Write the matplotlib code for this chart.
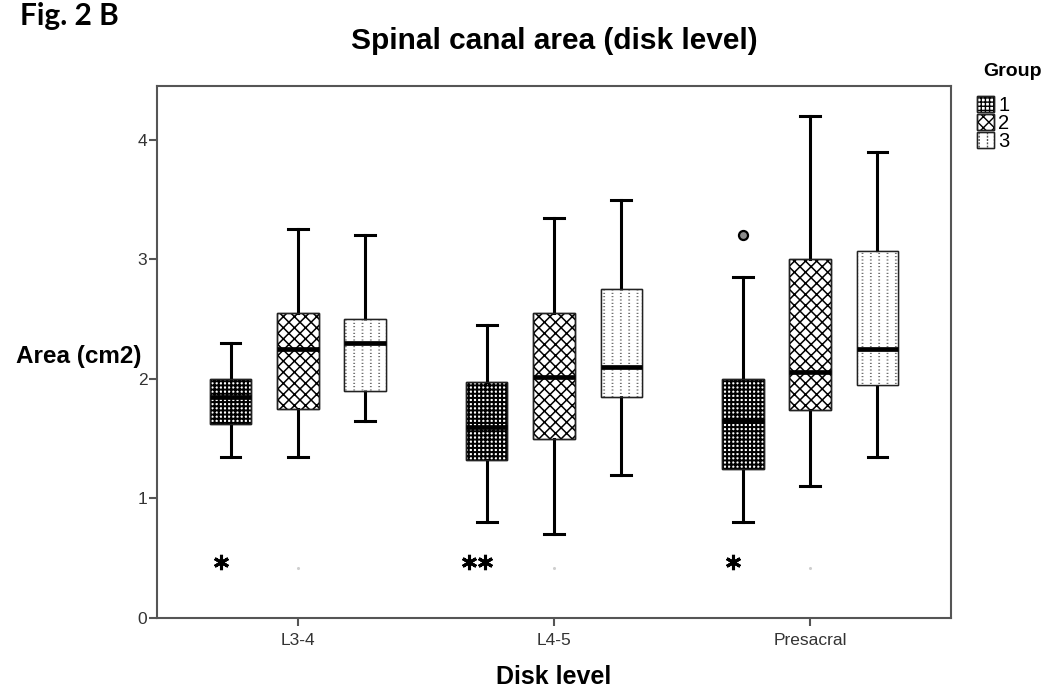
import matplotlib
matplotlib.use("Agg")
import matplotlib.pyplot as plt
import numpy as np
from matplotlib.patches import Patch, PathPatch
from matplotlib.legend_handler import HandlerTuple

# ---------------- data ----------------
categories = ["L3-4", "L4-5", "Presacral"]
groups = ["1", "2", "3"]

# rows = group 1..3, columns = categories
whisker_low = [[1.35, 0.80, 0.80],
               [1.35, 0.70, 1.10],
               [1.65, 1.20, 1.35]]
quartile1 = [[1.62, 1.32, 1.25],
             [1.75, 1.50, 1.74],
             [1.90, 1.85, 1.95]]
medians = [[1.85, 1.60, 1.65],
           [2.25, 2.02, 2.06],
           [2.30, 2.10, 2.25]]
quartile3 = [[2.00, 1.97, 2.00],
             [2.55, 2.55, 3.00],
             [2.50, 2.75, 3.07]]
whisker_high = [[2.30, 2.45, 2.85],
                [3.25, 3.35, 4.20],
                [3.20, 3.50, 3.90]]
outliers = [[[], [], [3.20]],
            [[], [], []],
            [[], [], []]]
extremes_group1 = [[0.47], [0.47, 0.47], [0.47]]
faint_marks = [0.42, 0.42, 0.42]
y_ticks = [0, 1, 2, 3, 4]

# ---------------- figure ----------------
W, H = 1054, 689
fig = plt.figure(figsize=(W / 100, H / 100), dpi=100)
ax = fig.add_axes([157 / W, 1 - 618 / H, (951 - 157) / W, (618 - 86) / H])

offsets = [-0.263, 0.0, 0.263]
box_w = 0.162
cap_w = 0.078
hatches = ["++++", "xxx", "||"]
hatch_lw = [1.45, 1.1, 1.3]
hatch_col = ["black", "black", "#505050"]
dot_cut_hatch = "-----"
dot_cut_lw = 1.7

def set_hlw(p, lw):
    if hasattr(p, "set_hatch_linewidth"):
        p.set_hatch_linewidth(lw)

for gi in range(3):
    stats = []
    for ci in range(3):
        stats.append(dict(whislo=whisker_low[gi][ci], q1=quartile1[gi][ci],
                          med=medians[gi][ci], q3=quartile3[gi][ci],
                          whishi=whisker_high[gi][ci], fliers=outliers[gi][ci]))
    pos = [ci + offsets[gi] for ci in range(3)]
    with plt.rc_context({"hatch.linewidth": hatch_lw[gi]}):
        bp = ax.bxp(stats, positions=pos, widths=box_w, capwidths=cap_w,
                    patch_artist=True, showfliers=True, manage_ticks=False,
                    boxprops=dict(facecolor="white", edgecolor=hatch_col[gi],
                                  linewidth=1.0, hatch=hatches[gi]),
                    whiskerprops=dict(color="black", linewidth=2.2),
                    capprops=dict(color="black", linewidth=2.2),
                    medianprops=dict(color="black", linewidth=3.4),
                    flierprops=dict(marker="o", markersize=6.5,
                                    markerfacecolor="#8c8c8c",
                                    markeredgecolor="black",
                                    markeredgewidth=1.6))
    for b in bp["boxes"]:
        set_hlw(b, hatch_lw[gi])
        b.set_zorder(2)
        if gi == 2:
            # white horizontal hatch chops the grey lines into dots
            with plt.rc_context({"hatch.linewidth": dot_cut_lw}):
                ov = PathPatch(b.get_path(), transform=ax.transData,
                               facecolor="none", edgecolor="white",
                               linewidth=0, hatch=dot_cut_hatch, zorder=2.1)
            set_hlw(ov, dot_cut_lw)
            ax.add_patch(ov)
        outline = PathPatch(b.get_path(), transform=ax.transData,
                            facecolor="none", edgecolor="#222222",
                            linewidth=1.0, zorder=2.2)
        ax.add_patch(outline)
    for m in bp["medians"]:
        m.set_zorder(3)

# extreme values (asterisks) of group 1
for ci in range(3):
    vals = extremes_group1[ci]
    n = len(vals)
    xs = ci + offsets[0] - 0.0375 + (np.arange(n) - (n - 1) / 2) * 0.064
    ax.plot(xs, vals, linestyle="none", marker=(6, 2, 0), markersize=11,
            markeredgewidth=2.2, color="black", zorder=4)

# faint marks
ax.scatter(range(3), faint_marks, s=1.5, color="#cfcfcf", zorder=1)

# ---------------- axes styling ----------------
ax.set_xlim(-0.55, 2.55)
ax.set_ylim(0, 4.45)
ax.set_xticks(range(3))
ax.set_xticklabels(categories)
ax.set_yticks(y_ticks)
ax.set_yticklabels([str(v) for v in y_ticks])
for s in ax.spines.values():
    s.set_color("#555555")
    s.set_linewidth(1.5)
ax.tick_params(axis="both", direction="out", length=6, width=1.5,
               color="#555555", labelcolor="#333333", labelsize=12.5,
               labelfontfamily="Liberation Sans")
ax.tick_params(axis="x", pad=5)
ax.tick_params(axis="y", pad=1)

ax.set_xlabel("Disk level", fontsize=18, fontweight="bold",
              family="Liberation Sans", labelpad=12)
fig.text(142 / W, 1 - 357 / H, "Area (cm2)", fontsize=17.5, fontweight="bold",
         family="Liberation Sans", ha="right", va="center")
fig.text(554 / W, 1 - 41 / H, "Spinal canal area (disk level)", fontsize=21.5,
         fontweight="bold", family="Liberation Sans", ha="center", va="center")
fig.text(20 / W, 1 - 25 / H, "Fig. 2 B", fontsize=21.5, fontweight="bold",
         family="Lato", ha="left", va="baseline")

# ---------------- legend ----------------
handles = []
for gi in range(3):
    with plt.rc_context({"hatch.linewidth": hatch_lw[gi]}):
        p = Patch(facecolor="white", edgecolor=hatch_col[gi], hatch=hatches[gi],
                  linewidth=1.0)
    set_hlw(p, hatch_lw[gi])
    o = Patch(facecolor="none", edgecolor="#222222", linewidth=1.0)
    if gi == 2:
        with plt.rc_context({"hatch.linewidth": dot_cut_lw}):
            w = Patch(facecolor="none", edgecolor="white", linewidth=0,
                      hatch=dot_cut_hatch)
        set_hlw(w, dot_cut_lw)
        handles.append((p, w, o))
    else:
        handles.append((p, o))

fig.text(1012 / W, 1 - 72 / H, "Group", fontsize=14, fontweight="bold",
         family="Liberation Sans", ha="center", va="center")
leg = fig.legend(handles, groups, loc="upper left",
                 bbox_to_anchor=(977 / W, 1 - 96 / H), frameon=False,
                 handler_map={tuple: HandlerTuple(ndivide=1)},
                 prop=dict(family="Liberation Sans", size=14.5),
                 handlelength=0.85, handleheight=0.8, labelspacing=-0.05,
                 handletextpad=0.2, borderaxespad=0, borderpad=0)

fig.savefig("out.png", dpi=100)
